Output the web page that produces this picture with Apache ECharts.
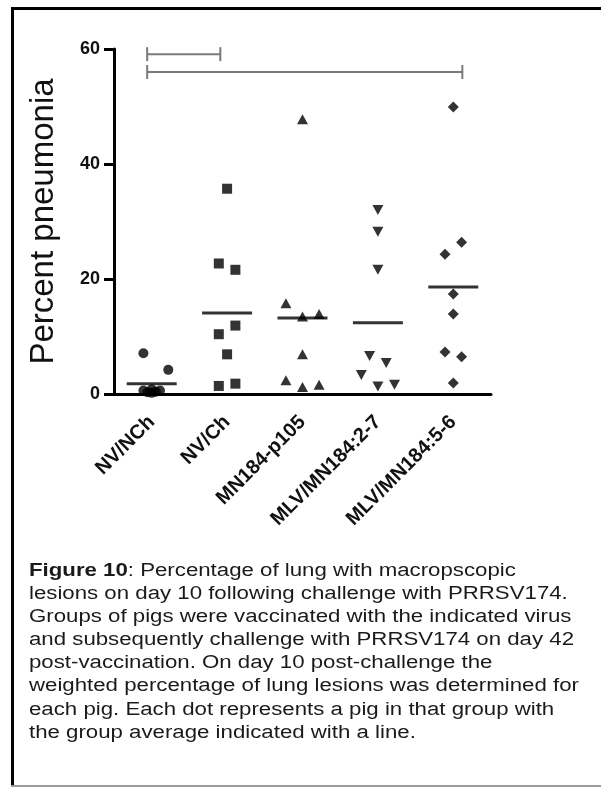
<!DOCTYPE html>
<html>
<head>
<meta charset="utf-8">
<script src="https://cdn.jsdelivr.net/npm/echarts@6.0.0/dist/echarts.min.js"></script>
<style>
  html, body { margin: 0; padding: 0; background: #fff; }
  #chart { width: 601px; height: 791px; }
</style>
</head>
<body>
<div id="chart"></div>
<script>
// groups on the x axis
var categories = ['NV/NCh', 'NV/Ch', 'MN184-p105', 'MLV/MN184:2-7', 'MLV/MN184:5-6'];
var yTicks = [0, 20, 40, 60];

// percent pneumonia per pig
var nvNch = [7.1, 4.2, 0.6, 0.3, 0.8, 0.4, 0.6, 0.2];
var nvCh = [35.7, 22.7, 21.6, 11.9, 10.4, 6.9, 1.4, 1.8];
var mn184 = [47.8, 15.8, 13.5, 13.9, 6.9, 2.4, 1.2, 1.6];
var mlv27 = [32.0, 28.2, 21.6, 6.6, 5.4, 3.3, 1.3, 1.6];
var mlv56 = [49.9, 26.4, 24.3, 17.4, 13.9, 7.3, 6.5, 1.9];

// scatter column of each dot (GraphPad style spreading)
var nvNchCol = [-1, 2, -1, -0.5, 0, 0.5, 1, 0];
var nvChCol = [0, -1, 1, 1, -1, 0, -1, 1];
var mn184Col = [0, -2, 0, 2, 0, -2, 0, 2];
var mlv27Col = [0, 0, 0, -1, 1, -2, 0, 2];
var mlv56Col = [0, 1, -1, 0, 0, -1, 1, 0];

// group averages (the short horizontal lines)
var groupMeans = [1.8, 14.1, 13.2, 12.4, 18.6];

// significance brackets: from group, to group, height
var bracketFrom = [-0.06, -0.06];
var bracketTo = [0.91, 4.12];
var bracketAt = [59.1, 56.0];

var caption = [
    '{b|Figure 10}: Percentage of lung with macropscopic',
    'lesions on day 10 following challenge with PRRSV174.',
    'Groups of pigs were vaccinated with the indicated virus',
    'and subsequently challenge with PRRSV174 on day 42',
    'post-vaccination. On day 10 post-challenge the',
    'weighted percentage of lung lesions was determined for',
    'each pig. Each dot represents a pig in that group with',
    'the group average indicated with a line.'
];

var FONT = '"Liberation Sans", Arial, sans-serif';
var COL_STEP = 0.11;

function dots(group, values, cols) {
    return values.map(function (v, i) {
        return [group + cols[i] * COL_STEP, v];
    });
}

function dotSeries(data, symbol, size, rotate) {
    return {
        type: 'scatter',
        xAxisIndex: 1,
        data: data,
        symbol: symbol,
        symbolSize: size,
        symbolRotate: rotate || 0,
        itemStyle: { color: '#000' },
        z: 5
    };
}

var chart = echarts.init(document.getElementById('chart'), null, { renderer: 'canvas' });

// caption text lines
var captionEls = caption.map(function (line, i) {
    return {
        type: 'text',
        x: 29,
        y: 571 + i * 23.1,
        scaleX: 1.235,
        style: {
            text: line,
            font: '18px ' + FONT,
            fill: '#1a1a1a',
            verticalAlign: 'middle',
            rich: {
                b: { fontWeight: 'bold', fontSize: 18, fontFamily: FONT, fill: '#1a1a1a' }
            }
        }
    };
});

var option = {
    animation: false,
    backgroundColor: '#fff',
    grid: { left: 114, top: 49, right: 110, bottom: 397, containLabel: false },
    xAxis: [{
        type: 'category',
        data: categories,
        boundaryGap: true,
        axisLine: { onZero: false, lineStyle: { color: '#000', width: 3 } },
        axisTick: { alignWithLabel: true, length: 10, lineStyle: { color: '#000', width: 3 } },
        axisLabel: {
            interval: 0,
            rotate: 45,
            margin: 25,
            color: '#111',
            fontFamily: FONT,
            fontWeight: 'bold',
            fontSize: 20
        },
        splitLine: { show: false }
    }, {
        type: 'value',
        min: -0.5,
        max: 4.5,
        show: false
    }],
    yAxis: {
        type: 'value',
        min: yTicks[0],
        max: yTicks[yTicks.length - 1],
        interval: 20,
        name: 'Percent pneumonia',
        nameLocation: 'middle',
        nameGap: 54,
        nameTextStyle: { color: '#111', fontFamily: FONT, fontSize: 33 },
        axisLine: { show: true, onZero: false, lineStyle: { color: '#000', width: 3 } },
        axisTick: { show: true, length: 10, lineStyle: { color: '#000', width: 3 } },
        axisLabel: { margin: 14, color: '#111', fontFamily: FONT, fontWeight: 'bold', fontSize: 18 },
        splitLine: { show: false }
    },
    series: [
        {
            // group means
            type: 'scatter',
            xAxisIndex: 1,
            data: groupMeans.map(function (m, i) { return [i, m]; }),
            symbol: 'rect',
            symbolSize: [50, 3],
            itemStyle: { color: '#000' },
            z: 4
        },
        dotSeries(dots(0, nvNch, nvNchCol), 'circle', 10),
        dotSeries(dots(1, nvCh, nvChCol), 'rect', 10),
        dotSeries(dots(2, mn184, mn184Col), 'triangle', [11, 10]),
        dotSeries(dots(3, mlv27, mlv27Col), 'triangle', [11, 10], 180),
        dotSeries(dots(4, mlv56, mlv56Col), 'diamond', [11, 11]),
        {
            // significance brackets
            type: 'custom',
            xAxisIndex: 1,
            clip: false,
            data: bracketAt.map(function (y, i) { return [bracketFrom[i], bracketTo[i], y]; }),
            encode: { x: [0, 1], y: 2 },
            renderItem: function (params, api) {
                var p1 = api.coord([api.value(0), api.value(2)]);
                var p2 = api.coord([api.value(1), api.value(2)]);
                var st = { stroke: '#7a7a7a', lineWidth: 2 };
                return {
                    type: 'group',
                    children: [
                        { type: 'line', shape: { x1: p1[0], y1: p1[1], x2: p2[0], y2: p2[1] }, style: st },
                        { type: 'line', shape: { x1: p1[0], y1: p1[1] - 7, x2: p1[0], y2: p1[1] + 7 }, style: st },
                        { type: 'line', shape: { x1: p2[0], y1: p2[1] - 7, x2: p2[0], y2: p2[1] + 7 }, style: st }
                    ]
                };
            }
        }
    ],
    graphic: [
        // frame of the figure
        { type: 'line', shape: { x1: 11, y1: 8.5, x2: 601, y2: 8.5 }, style: { stroke: '#000', lineWidth: 3 } },
        { type: 'line', shape: { x1: 12.5, y1: 7, x2: 12.5, y2: 786 }, style: { stroke: '#000', lineWidth: 3 } },
        { type: 'line', shape: { x1: 11, y1: 786, x2: 601, y2: 786 }, style: { stroke: '#9a9a9a', lineWidth: 2 } }
    ].concat(captionEls)
};

chart.setOption(option);
</script>
</body>
</html>
